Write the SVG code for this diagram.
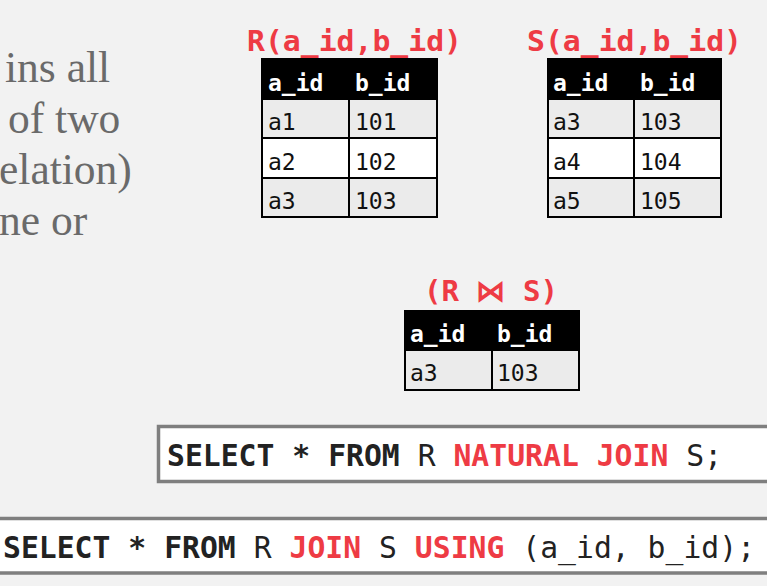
<svg xmlns="http://www.w3.org/2000/svg" width="767" height="586" viewBox="0 0 767 586">
<style>
.bg{fill:#f2f2f2}
.body{font-family:"Liberation Serif","Times New Roman",serif;font-size:43.5px;fill:#6a6a6a}
.title{font-family:"DejaVu Sans Mono","Liberation Mono",monospace;font-size:29px;font-weight:bold;fill:#ee3b44}
.hdr{fill:#000}
.odd{fill:#ebebeb}
.even{fill:#ffffff}
.grid{fill:none;stroke:#000;stroke-width:2}
.th{font-family:"DejaVu Sans Mono","Liberation Mono",monospace;font-size:23px;font-weight:bold;fill:#fff}
.td{font-family:"DejaVu Sans Mono","Liberation Mono",monospace;font-size:23px;fill:#111}
.box{fill:#fff;stroke:#7f7f7f;stroke-width:3.5}
.sql{font-family:"DejaVu Sans Mono","Liberation Mono",monospace;font-size:29.7px;fill:#222}
.kw{font-weight:bold}
.red{font-weight:bold;fill:#ee3b44}
</style>
<rect class="bg" x="0" y="0" width="767" height="586"/>

<g id="intro-text">
<text class="body" x="5" y="82">ins all</text>
<text class="body" x="8" y="133">of two</text>
<text class="body" x="-1" y="184">elation)</text>
<text class="body" x="-1" y="235">ne or</text>
</g>

<g id="table-R">
<text class="title" x="247" y="50.5" textLength="215" lengthAdjust="spacingAndGlyphs">R(a_id,b_id)</text>
<rect class="hdr" x="262" y="59" width="175" height="40"/>
<rect class="odd" x="262" y="99" width="175" height="39"/>
<rect class="even" x="262" y="138" width="175" height="40"/>
<rect class="odd" x="262" y="178" width="175" height="39"/>
<path class="grid" d="M262,59H437V217H262Z M349,59V217 M262,99H437 M262,138H437 M262,178H437"/>
<text class="th" x="268" y="91">a_id</text>
<text class="th" x="355" y="91">b_id</text>
<text class="td" x="268" y="130">a1</text>
<text class="td" x="355" y="130">101</text>
<text class="td" x="268" y="170">a2</text>
<text class="td" x="355" y="170">102</text>
<text class="td" x="268" y="209">a3</text>
<text class="td" x="355" y="209">103</text>
</g>

<g id="table-S">
<text class="title" x="527" y="50.5" textLength="215" lengthAdjust="spacingAndGlyphs">S(a_id,b_id)</text>
<rect class="hdr" x="548" y="59" width="173" height="40"/>
<rect class="odd" x="548" y="99" width="173" height="39"/>
<rect class="even" x="548" y="138" width="173" height="40"/>
<rect class="odd" x="548" y="178" width="173" height="39"/>
<path class="grid" d="M548,59H721V217H548Z M634,59V217 M548,99H721 M548,138H721 M548,178H721"/>
<text class="th" x="553" y="91">a_id</text>
<text class="th" x="640" y="91">b_id</text>
<text class="td" x="553" y="130">a3</text>
<text class="td" x="640" y="130">103</text>
<text class="td" x="553" y="170">a4</text>
<text class="td" x="640" y="170">104</text>
<text class="td" x="553" y="209">a5</text>
<text class="td" x="640" y="209">105</text>
</g>

<g id="table-RjoinS">
<text class="title" x="424" y="301" textLength="134" lengthAdjust="spacingAndGlyphs">(R ⋈ S)</text>
<rect class="hdr" x="405" y="311" width="174" height="39"/>
<rect class="odd" x="405" y="350" width="174" height="40"/>
<path class="grid" d="M405,311H579V390H405Z M492,311V390 M405,350H579"/>
<text class="th" x="410" y="342">a_id</text>
<text class="th" x="497" y="342">b_id</text>
<text class="td" x="410" y="381">a3</text>
<text class="td" x="497" y="381">103</text>
</g>

<g id="sql-natural-join">
<rect class="box" x="158.5" y="426.5" width="620" height="55"/>
<text class="sql" x="167" y="466" textLength="555" lengthAdjust="spacing"><tspan class="kw">SELECT * FROM</tspan> R <tspan class="red">NATURAL JOIN</tspan> S;</text>
</g>

<g id="sql-join-using">
<rect class="box" x="-10" y="518.5" width="790" height="54.5"/>
<text class="sql" x="3" y="558" textLength="752" lengthAdjust="spacing"><tspan class="kw">SELECT * FROM</tspan> R <tspan class="red">JOIN</tspan> S <tspan class="red">USING</tspan> (a_id, b_id);</text>
</g>

<g id="connectors"></g>
</svg>
